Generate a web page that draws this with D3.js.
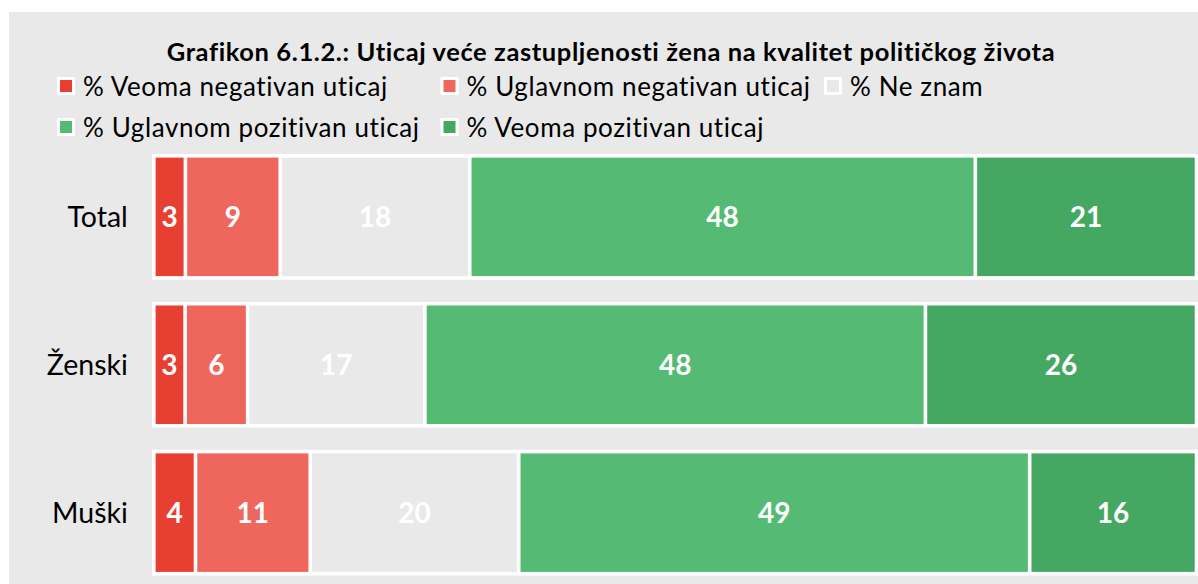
<!DOCTYPE html>
<html>
<head>
<meta charset="utf-8">
<script src="https://cdn.jsdelivr.net/npm/d3@7"></script>
<style>
    body { margin: 0; background: #fff; }
    svg text { font-family: Lato, 'Open Sans', sans-serif; }
</style>
</head>
<body>
<div class="chart"></div>
<script>
const width = 1198;
const height = 584;

// data
const categories = ['Total', 'Ženski', 'Muški'];
const seriesNames = ['% Veoma negativan uticaj', '% Uglavnom negativan uticaj', '% Ne znam',
    '% Uglavnom pozitivan uticaj', '% Veoma pozitivan uticaj'];
const veomaNegativan = [3, 3, 4];
const uglavnomNegativan = [9, 6, 11];
const neZnam = [18, 17, 20];
const uglavnomPozitivan = [48, 48, 49];
const veomaPozitivan = [21, 26, 16];
const colors = ['#e83f33', '#ee665c', '#e9e9e9', '#55ba73', '#45a862'];

const title = 'Grafikon 6.1.2.: Uticaj veće zastupljenosti žena na kvalitet političkog života';

const svg = d3.select('.chart').append('svg')
    .attr('width', width)
    .attr('height', height);

// chart area background
svg.append('rect')
    .attr('x', 9).attr('y', 12)
    .attr('width', width - 9).attr('height', height - 12)
    .attr('fill', '#e9e9e9');

svg.append('text')
    .attr('x', 611)
    .attr('y', 61)
    .attr('text-anchor', 'middle')
    .attr('font-weight', 'bold')
    .attr('font-size', 25.5)
    .attr('letter-spacing', 0.6)
    .attr('fill', '#000')
    .text(title);

/*      Legend       */
const legend = svg.append('g');
const legendItems = legend.selectAll('g')
    .data(seriesNames)
    .enter()
    .append('g')
    .attr('transform', (d, i) => {
        const col = i < 3 ? i : i - 3;
        const row = i < 3 ? 0 : 1;
        return `translate(${57 + col * 383.5}, ${86 + row * 41})`;
    });
legendItems.append('rect')
    .attr('x', 1.5).attr('y', -7.5)
    .attr('width', 15).attr('height', 15)
    .attr('fill', (d, i) => colors[i])
    .attr('stroke', '#fff')
    .attr('stroke-width', 3);
legendItems.append('text')
    .attr('x', 26)
    .attr('y', 9.5)
    .attr('font-size', 26)
    .attr('letter-spacing', 0.6)
    .attr('fill', '#000')
    .text(d => d);

/*      Stack       */
const rows = categories.map((c, i) => ({
    name: c,
    s0: veomaNegativan[i],
    s1: uglavnomNegativan[i],
    s2: neZnam[i],
    s3: uglavnomPozitivan[i],
    s4: veomaPozitivan[i]
}));
const keys = ['s0', 's1', 's2', 's3', 's4'];
const stacked = d3.stack().keys(keys).offset(d3.stackOffsetExpand)(rows);
const valueOf = { s0: veomaNegativan, s1: uglavnomNegativan, s2: neZnam, s3: uglavnomPozitivan, s4: veomaPozitivan };

const xScale = d3.scaleLinear().domain([0, 1]).range([153.8, 1196.5]);
const yScale = d3.scaleBand().domain(categories).range([154, 575.5]).paddingInner(0.15).paddingOuter(0);

const gap = 1.8;
const inset = 3.6;

// white frame behind each bar
svg.append('g').selectAll('rect')
    .data(categories)
    .enter()
    .append('rect')
    .attr('x', xScale(0) - gap)
    .attr('y', d => yScale(d))
    .attr('width', xScale(1) - xScale(0) + 2 * gap)
    .attr('height', yScale.bandwidth())
    .attr('fill', '#fff');

const layers = svg.append('g').selectAll('g')
    .data(stacked)
    .enter()
    .append('g')
    .attr('fill', (d, i) => colors[i]);

layers.selectAll('rect')
    .data(d => d)
    .enter()
    .append('rect')
    .attr('x', d => xScale(d[0]) + gap)
    .attr('y', d => yScale(d.data.name) + inset)
    .attr('width', d => xScale(d[1]) - xScale(d[0]) - 2 * gap)
    .attr('height', yScale.bandwidth() - 2 * inset);

layers.selectAll('text')
    .data(d => d.map((p, j) => ({ p: p, v: valueOf[d.key][j] })))
    .enter()
    .append('text')
    .attr('x', d => (xScale(d.p[0]) + xScale(d.p[1])) / 2)
    .attr('y', d => yScale(d.p.data.name) + yScale.bandwidth() / 2)
    .attr('dy', '0.36em')
    .attr('text-anchor', 'middle')
    .attr('font-weight', 'bold')
    .attr('font-size', 28)
    .attr('fill', '#fff')
    .text(d => d.v);

/*      Category axis       */
const yAxis = d3.axisLeft(yScale).tickSize(0).tickPadding(26);
const axisG = svg.append('g')
    .attr('transform', `translate(${xScale(0)}, 0)`)
    .call(yAxis);
axisG.select('.domain').remove();
axisG.selectAll('text')
    .attr('font-size', 28.5)
    .attr('font-family', 'Lato, sans-serif')
    .attr('fill', '#000')
    .attr('dy', '0.36em');
</script>
</body>
</html>
